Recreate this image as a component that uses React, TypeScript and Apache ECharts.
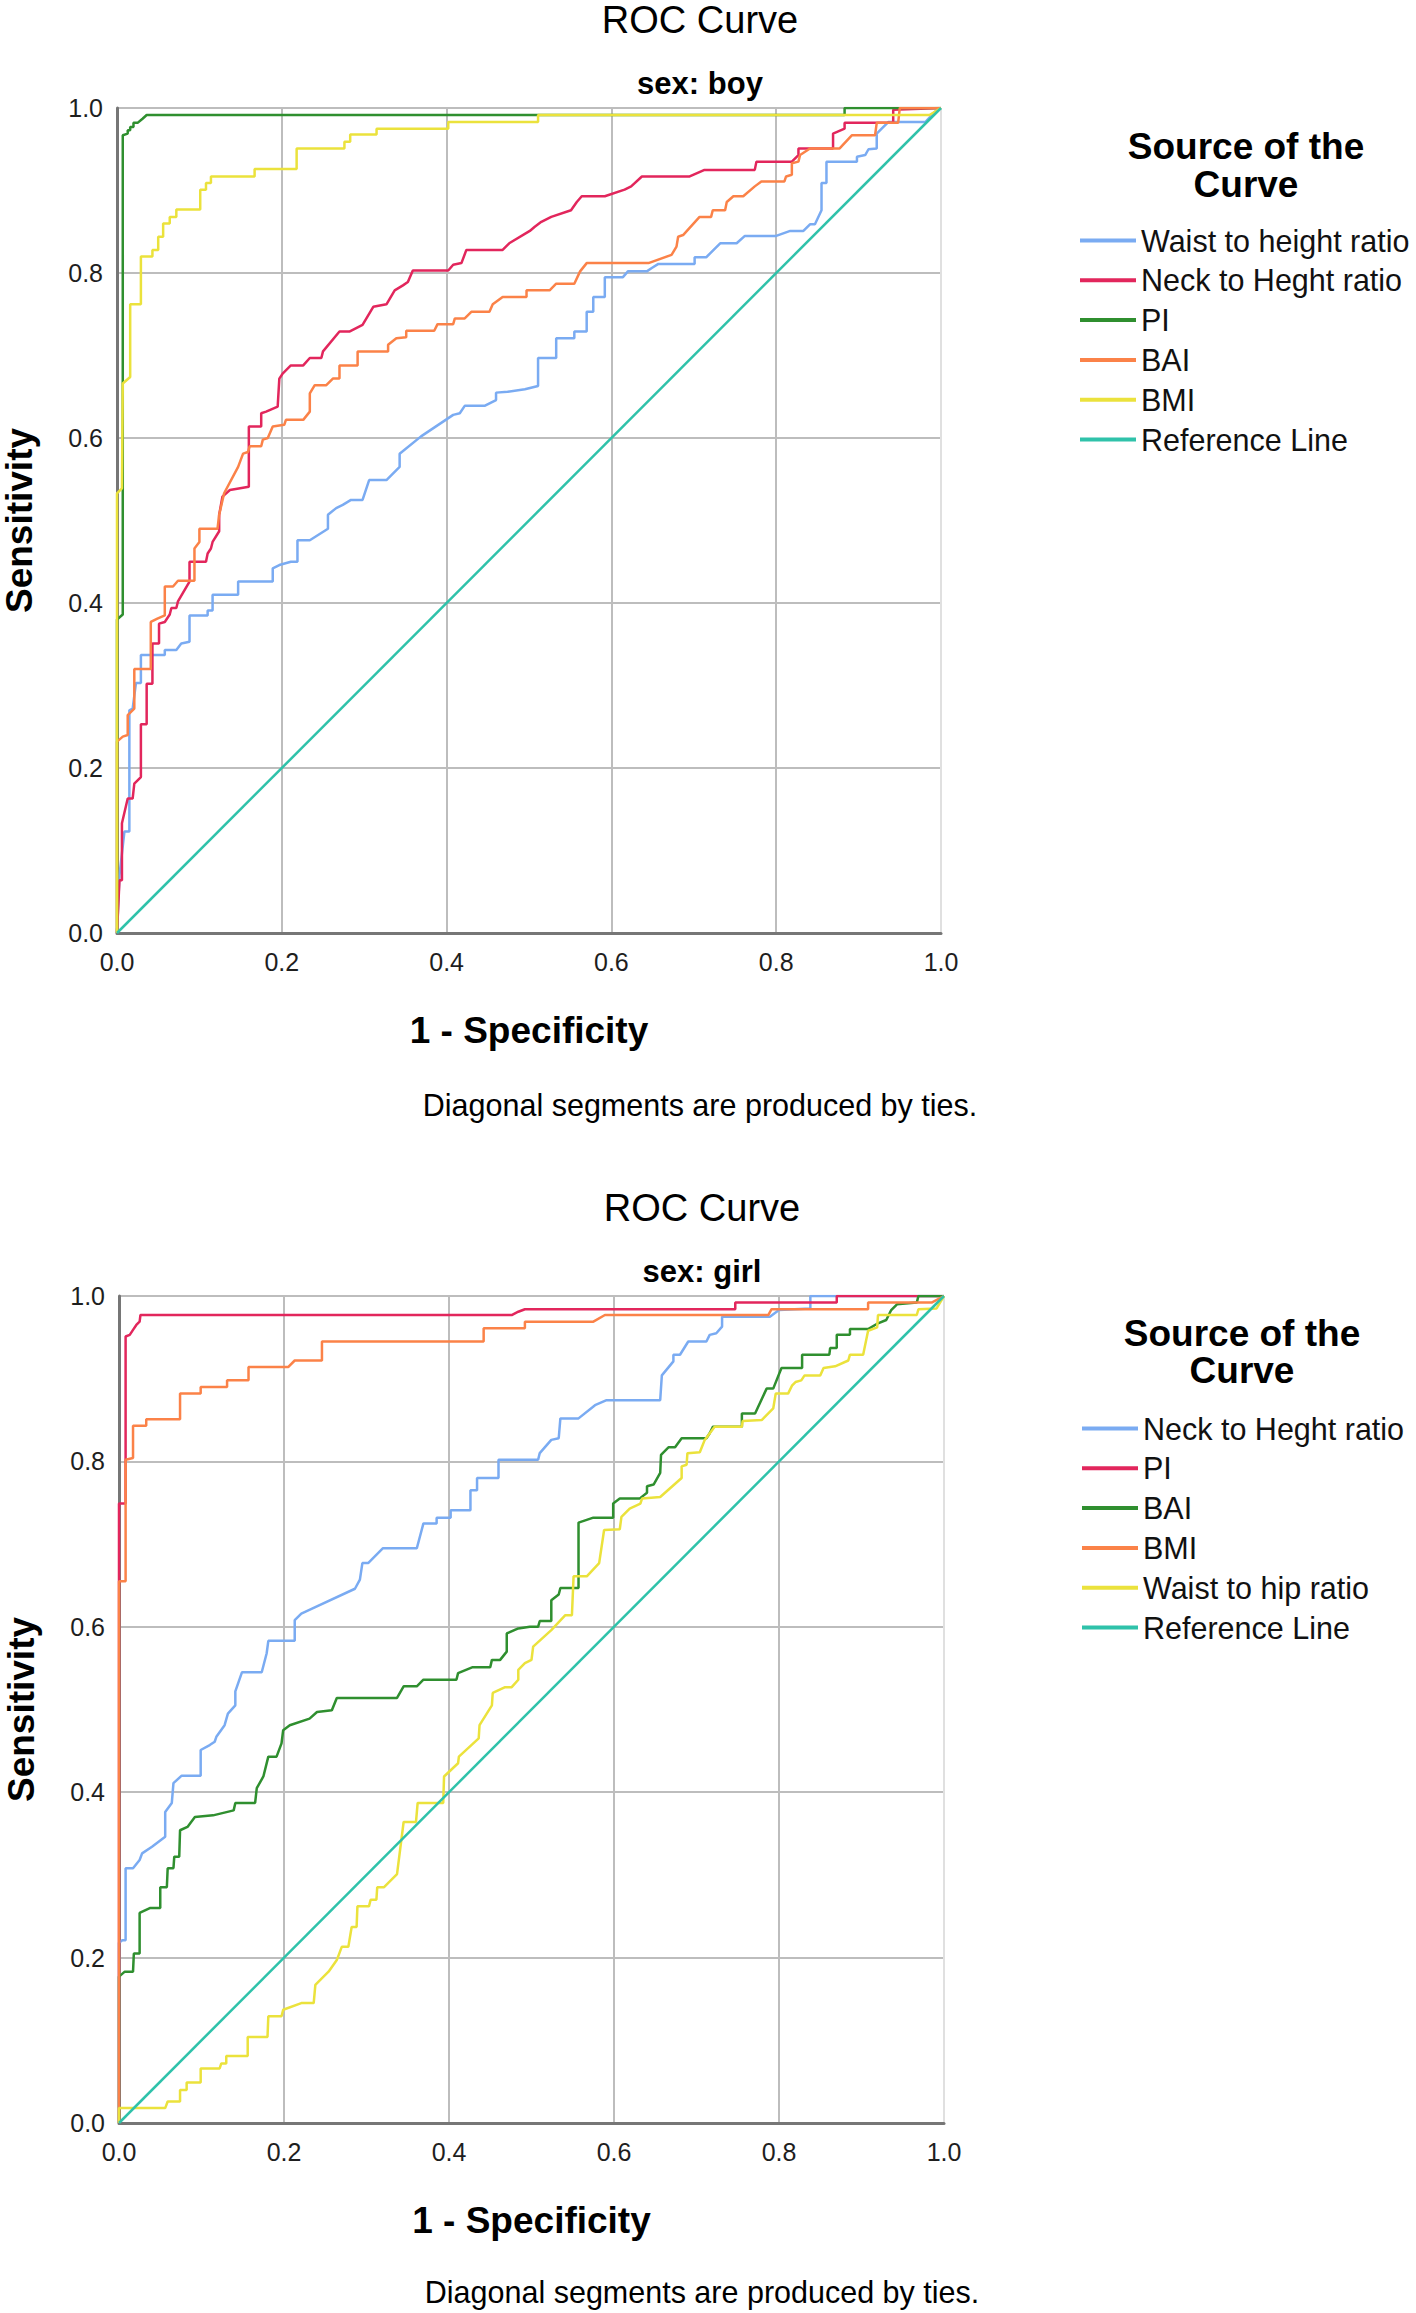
import React, { useEffect, useRef } from "react";
import * as echarts from "echarts";

type Pt = [number, number];

const FONT = '"Liberation Sans", Arial, Helvetica, sans-serif';

const axisTicks = [0, 0.2, 0.4, 0.6, 0.8, 1.0];

// ---------- sex: boy ----------
const boyWaistHeight: Pt[] = [
  [0, 0], [0.003, 0.07], [0.009, 0.123], [0.015, 0.123], [0.015, 0.27], [0.019, 0.272], [0.023, 0.303], [0.029, 0.303],
  [0.029, 0.337], [0.058, 0.337], [0.058, 0.343], [0.072, 0.343], [0.078, 0.351], [0.088, 0.353], [0.088, 0.385],
  [0.11, 0.385], [0.11, 0.391], [0.116, 0.391], [0.116, 0.41], [0.147, 0.41], [0.147, 0.426], [0.189, 0.426],
  [0.189, 0.442], [0.197, 0.446], [0.211, 0.45], [0.219, 0.45], [0.219, 0.476], [0.234, 0.476], [0.256, 0.49],
  [0.256, 0.507], [0.266, 0.515], [0.274, 0.519], [0.284, 0.525], [0.298, 0.525], [0.306, 0.549], [0.327, 0.549],
  [0.343, 0.565], [0.343, 0.581], [0.369, 0.602], [0.408, 0.628], [0.416, 0.63], [0.422, 0.639], [0.446, 0.639],
  [0.46, 0.646], [0.46, 0.655], [0.474, 0.656], [0.495, 0.659], [0.511, 0.663], [0.511, 0.697], [0.533, 0.697],
  [0.533, 0.721], [0.555, 0.721], [0.555, 0.729], [0.57, 0.729], [0.57, 0.753], [0.578, 0.753], [0.578, 0.771],
  [0.592, 0.771], [0.592, 0.795], [0.614, 0.795], [0.62, 0.802], [0.643, 0.802], [0.649, 0.806], [0.657, 0.811],
  [0.701, 0.811], [0.701, 0.819], [0.715, 0.819], [0.732, 0.836], [0.752, 0.836], [0.762, 0.845], [0.8, 0.845],
  [0.817, 0.851], [0.833, 0.851], [0.841, 0.859], [0.847, 0.859], [0.855, 0.876], [0.855, 0.909], [0.861, 0.909],
  [0.861, 0.935], [0.898, 0.935], [0.898, 0.941], [0.908, 0.943], [0.912, 0.95], [0.922, 0.951], [0.922, 0.969],
  [0.928, 0.975], [0.936, 0.983], [0.981, 0.983], [0.993, 0.996], [1, 1],
];

const boyNeckHeight: Pt[] = [
  [0, 0], [0.003, 0.064], [0.006, 0.064], [0.006, 0.133], [0.013, 0.163], [0.019, 0.163], [0.021, 0.181], [0.029, 0.189],
  [0.029, 0.253], [0.036, 0.253], [0.036, 0.302], [0.043, 0.302], [0.043, 0.351], [0.051, 0.351], [0.051, 0.375],
  [0.058, 0.377], [0.064, 0.386], [0.066, 0.394], [0.072, 0.394], [0.074, 0.402], [0.088, 0.426], [0.088, 0.45],
  [0.108, 0.45], [0.11, 0.46], [0.114, 0.466], [0.116, 0.474], [0.124, 0.487], [0.124, 0.507], [0.128, 0.529],
  [0.137, 0.537], [0.16, 0.541], [0.16, 0.614], [0.175, 0.614], [0.175, 0.63], [0.181, 0.632], [0.195, 0.638],
  [0.197, 0.672], [0.201, 0.678], [0.211, 0.688], [0.226, 0.688], [0.234, 0.697], [0.248, 0.697], [0.25, 0.705],
  [0.27, 0.729], [0.282, 0.729], [0.298, 0.737], [0.311, 0.759], [0.327, 0.762], [0.337, 0.779], [0.347, 0.785],
  [0.353, 0.789], [0.359, 0.803], [0.402, 0.803], [0.408, 0.81], [0.418, 0.812], [0.424, 0.828], [0.468, 0.828],
  [0.476, 0.836], [0.501, 0.851], [0.507, 0.856], [0.515, 0.862], [0.527, 0.868], [0.551, 0.876], [0.558, 0.886],
  [0.564, 0.893], [0.592, 0.893], [0.616, 0.901], [0.624, 0.905], [0.637, 0.917], [0.695, 0.917], [0.713, 0.925],
  [0.774, 0.925], [0.776, 0.935], [0.819, 0.935], [0.827, 0.943], [0.827, 0.951], [0.869, 0.951], [0.869, 0.969],
  [0.883, 0.975], [0.883, 0.982], [0.942, 0.982], [0.942, 0.998], [1, 1],
];

const boyPI: Pt[] = [
  [0, 0], [0, 0.38], [0.007, 0.386], [0.007, 0.967], [0.013, 0.969], [0.013, 0.973], [0.016, 0.973], [0.016, 0.977],
  [0.02, 0.977], [0.02, 0.982], [0.025, 0.982], [0.031, 0.987], [0.036, 0.9915], [0.883, 0.9915], [0.883, 1], [1, 1],
];

const boyBAI: Pt[] = [
  [0, 0], [0, 0.232], [0.007, 0.238], [0.013, 0.24], [0.013, 0.264], [0.021, 0.272], [0.021, 0.32], [0.041, 0.32],
  [0.041, 0.377], [0.049, 0.381], [0.058, 0.385], [0.058, 0.42], [0.068, 0.42], [0.074, 0.427], [0.094, 0.427],
  [0.094, 0.466], [0.1, 0.474], [0.1, 0.49], [0.122, 0.49], [0.124, 0.507], [0.13, 0.533], [0.147, 0.565],
  [0.153, 0.581], [0.159, 0.583], [0.161, 0.59], [0.175, 0.59], [0.177, 0.598], [0.183, 0.6], [0.189, 0.614],
  [0.203, 0.616], [0.205, 0.622], [0.226, 0.622], [0.234, 0.632], [0.234, 0.654], [0.24, 0.664], [0.254, 0.664],
  [0.262, 0.672], [0.27, 0.672], [0.27, 0.688], [0.292, 0.688], [0.292, 0.705], [0.329, 0.705], [0.329, 0.713],
  [0.339, 0.721], [0.351, 0.722], [0.351, 0.73], [0.385, 0.73], [0.389, 0.738], [0.408, 0.738], [0.41, 0.745],
  [0.422, 0.745], [0.43, 0.753], [0.452, 0.753], [0.456, 0.762], [0.468, 0.771], [0.497, 0.771], [0.497, 0.779],
  [0.525, 0.779], [0.533, 0.787], [0.555, 0.787], [0.562, 0.802], [0.57, 0.812], [0.645, 0.812], [0.673, 0.822],
  [0.679, 0.832], [0.681, 0.844], [0.687, 0.846], [0.707, 0.868], [0.721, 0.868], [0.723, 0.876], [0.738, 0.876],
  [0.74, 0.886], [0.748, 0.893], [0.76, 0.893], [0.774, 0.905], [0.782, 0.911], [0.81, 0.911], [0.812, 0.917],
  [0.819, 0.919], [0.819, 0.933], [0.827, 0.935], [0.829, 0.943], [0.841, 0.951], [0.877, 0.951], [0.892, 0.967],
  [0.92, 0.967], [0.922, 0.982], [0.948, 0.982], [0.95, 1], [1, 1],
];

const boyBMI: Pt[] = [
  [0, 0], [0, 0.533], [0.006, 0.539], [0.007, 0.666], [0.016, 0.674], [0.016, 0.762], [0.029, 0.762], [0.029, 0.82],
  [0.043, 0.82], [0.043, 0.828], [0.05, 0.828], [0.05, 0.844], [0.056, 0.844], [0.056, 0.86], [0.064, 0.86],
  [0.064, 0.868], [0.072, 0.868], [0.072, 0.877], [0.101, 0.877], [0.101, 0.901], [0.108, 0.901], [0.108, 0.909],
  [0.114, 0.909], [0.114, 0.917], [0.167, 0.917], [0.167, 0.926], [0.218, 0.926], [0.218, 0.951], [0.276, 0.951],
  [0.276, 0.959], [0.283, 0.959], [0.283, 0.968], [0.315, 0.968], [0.315, 0.975], [0.402, 0.975], [0.402, 0.983],
  [0.511, 0.983], [0.511, 0.9915], [0.986, 0.9915], [1, 1],
];

// ---------- sex: girl ----------
const girlNeckHeight: Pt[] = [
  [0, 0], [0, 0.218], [0.004, 0.221], [0.008, 0.221], [0.008, 0.308], [0.017, 0.308], [0.025, 0.318], [0.028, 0.326],
  [0.04, 0.334], [0.056, 0.346], [0.056, 0.376], [0.064, 0.387], [0.066, 0.411], [0.076, 0.42], [0.099, 0.42],
  [0.099, 0.451], [0.11, 0.457], [0.116, 0.461], [0.118, 0.467], [0.128, 0.481], [0.132, 0.495], [0.141, 0.505],
  [0.141, 0.522], [0.149, 0.545], [0.173, 0.545], [0.179, 0.568], [0.181, 0.583], [0.213, 0.583], [0.213, 0.608],
  [0.221, 0.616], [0.234, 0.622], [0.286, 0.646], [0.292, 0.657], [0.295, 0.677], [0.302, 0.677], [0.32, 0.695],
  [0.361, 0.695], [0.369, 0.725], [0.385, 0.725], [0.385, 0.732], [0.402, 0.732], [0.402, 0.741], [0.426, 0.741],
  [0.426, 0.765], [0.434, 0.765], [0.434, 0.78], [0.46, 0.78], [0.46, 0.802], [0.508, 0.802], [0.51, 0.81],
  [0.524, 0.826], [0.533, 0.828], [0.535, 0.852], [0.557, 0.852], [0.577, 0.868], [0.591, 0.874], [0.656, 0.874],
  [0.658, 0.904], [0.672, 0.921], [0.672, 0.929], [0.68, 0.929], [0.69, 0.945], [0.712, 0.945], [0.716, 0.953],
  [0.724, 0.955], [0.731, 0.963], [0.731, 0.975], [0.789, 0.975], [0.8, 0.983], [0.838, 0.985], [0.838, 1], [1, 1],
];

const girlPI: Pt[] = [
  [0, 0], [0, 0.749], [0.008, 0.749], [0.008, 0.951], [0.013, 0.953], [0.017, 0.959], [0.021, 0.965], [0.025, 0.969],
  [0.026, 0.977], [0.476, 0.977], [0.484, 0.981], [0.492, 0.984], [0.747, 0.984], [0.747, 0.992], [0.87, 0.992],
  [0.87, 1], [1, 1],
];

const girlBAI: Pt[] = [
  [0, 0], [0, 0.177], [0.007, 0.183], [0.017, 0.183], [0.018, 0.205], [0.025, 0.205], [0.025, 0.254], [0.038, 0.26],
  [0.05, 0.26], [0.05, 0.285], [0.058, 0.285], [0.059, 0.308], [0.066, 0.308], [0.067, 0.322], [0.073, 0.322],
  [0.074, 0.354], [0.083, 0.358], [0.092, 0.37], [0.114, 0.372], [0.139, 0.378], [0.141, 0.387], [0.165, 0.387],
  [0.167, 0.405], [0.175, 0.419], [0.181, 0.443], [0.191, 0.443], [0.197, 0.459], [0.199, 0.475], [0.207, 0.481],
  [0.231, 0.489], [0.24, 0.497], [0.258, 0.499], [0.264, 0.514], [0.337, 0.514], [0.345, 0.528], [0.361, 0.528],
  [0.369, 0.536], [0.409, 0.536], [0.411, 0.544], [0.428, 0.551], [0.45, 0.551], [0.452, 0.56], [0.462, 0.56],
  [0.47, 0.57], [0.47, 0.592], [0.484, 0.598], [0.498, 0.6], [0.508, 0.6], [0.51, 0.607], [0.524, 0.607],
  [0.524, 0.632], [0.533, 0.639], [0.535, 0.647], [0.557, 0.647], [0.557, 0.726], [0.575, 0.732], [0.599, 0.732],
  [0.599, 0.749], [0.607, 0.755], [0.631, 0.755], [0.64, 0.762], [0.64, 0.77], [0.648, 0.772], [0.656, 0.786],
  [0.657, 0.808], [0.666, 0.817], [0.674, 0.817], [0.682, 0.828], [0.712, 0.828], [0.716, 0.834], [0.72, 0.842],
  [0.755, 0.842], [0.755, 0.858], [0.771, 0.858], [0.785, 0.888], [0.793, 0.888], [0.803, 0.913], [0.828, 0.913],
  [0.828, 0.929], [0.861, 0.929], [0.862, 0.937], [0.87, 0.937], [0.87, 0.953], [0.886, 0.953], [0.886, 0.96],
  [0.908, 0.96], [0.92, 0.967], [0.93, 0.971], [0.936, 0.983], [0.943, 0.99], [0.967, 0.992], [0.969, 1], [1, 1],
];

const girlBMI: Pt[] = [
  [0, 0], [0, 0.655], [0.008, 0.655], [0.008, 0.802], [0.017, 0.804], [0.017, 0.843], [0.033, 0.843], [0.033, 0.851],
  [0.074, 0.851], [0.074, 0.882], [0.099, 0.882], [0.099, 0.89], [0.131, 0.89], [0.131, 0.898], [0.157, 0.898],
  [0.157, 0.914], [0.205, 0.914], [0.213, 0.922], [0.246, 0.922], [0.246, 0.945], [0.442, 0.945], [0.442, 0.961],
  [0.492, 0.961], [0.492, 0.969], [0.575, 0.969], [0.589, 0.977], [0.787, 0.977], [0.791, 0.984], [0.908, 0.984],
  [0.908, 0.992], [0.985, 0.992], [1, 1],
];

const girlWaistHip: Pt[] = [
  [0, 0], [0, 0.018], [0.056, 0.018], [0.059, 0.026], [0.074, 0.026], [0.074, 0.04], [0.082, 0.04], [0.082, 0.049],
  [0.099, 0.049], [0.099, 0.066], [0.122, 0.066], [0.124, 0.072], [0.13, 0.072], [0.13, 0.081], [0.156, 0.081],
  [0.156, 0.104], [0.18, 0.104], [0.181, 0.129], [0.197, 0.129], [0.199, 0.137], [0.221, 0.145], [0.236, 0.145],
  [0.238, 0.167], [0.244, 0.173], [0.254, 0.183], [0.264, 0.197], [0.27, 0.213], [0.278, 0.213], [0.282, 0.237],
  [0.288, 0.237], [0.289, 0.262], [0.303, 0.262], [0.305, 0.27], [0.312, 0.27], [0.313, 0.285], [0.321, 0.285],
  [0.337, 0.301], [0.345, 0.364], [0.36, 0.364], [0.362, 0.387], [0.393, 0.387], [0.394, 0.419], [0.411, 0.435],
  [0.412, 0.443], [0.436, 0.465], [0.437, 0.481], [0.452, 0.505], [0.453, 0.52], [0.468, 0.527], [0.476, 0.527],
  [0.484, 0.536], [0.484, 0.548], [0.492, 0.556], [0.5, 0.56], [0.502, 0.576], [0.524, 0.596], [0.541, 0.614],
  [0.549, 0.614], [0.551, 0.661], [0.567, 0.661], [0.582, 0.677], [0.588, 0.717], [0.607, 0.718], [0.609, 0.733],
  [0.619, 0.743], [0.632, 0.749], [0.634, 0.755], [0.656, 0.757], [0.682, 0.78], [0.682, 0.794], [0.688, 0.796],
  [0.689, 0.81], [0.704, 0.811], [0.71, 0.826], [0.722, 0.842], [0.755, 0.842], [0.756, 0.849], [0.779, 0.85],
  [0.793, 0.864], [0.796, 0.882], [0.811, 0.882], [0.816, 0.892], [0.82, 0.896], [0.827, 0.898], [0.831, 0.904],
  [0.85, 0.904], [0.854, 0.913], [0.868, 0.915], [0.884, 0.922], [0.886, 0.929], [0.902, 0.929], [0.908, 0.958],
  [0.919, 0.962], [0.92, 0.977], [0.967, 0.977], [0.969, 0.984], [0.991, 0.985], [1, 1],
];

const referenceLine: Pt[] = [[0, 0], [1, 1]];

const C_BLUE = "#7aabf2";
const C_RED = "#e2265c";
const C_GREEN = "#2f8f2f";
const C_ORANGE = "#fb8248";
const C_YELLOW = "#ebe23c";
const C_TEAL = "#2fc2aa";

interface SeriesDef {
  name: string;
  color: string;
  data: Pt[];
}

const boySeries: SeriesDef[] = [
  { name: "Waist to height ratio", color: C_BLUE, data: boyWaistHeight },
  { name: "Neck to Heght ratio", color: C_RED, data: boyNeckHeight },
  { name: "PI", color: C_GREEN, data: boyPI },
  { name: "BAI", color: C_ORANGE, data: boyBAI },
  { name: "BMI", color: C_YELLOW, data: boyBMI },
  { name: "Reference Line", color: C_TEAL, data: referenceLine },
];

const girlSeries: SeriesDef[] = [
  { name: "Neck to Heght ratio", color: C_BLUE, data: girlNeckHeight },
  { name: "PI", color: C_RED, data: girlPI },
  { name: "BAI", color: C_GREEN, data: girlBAI },
  { name: "BMI", color: C_ORANGE, data: girlBMI },
  { name: "Waist to hip ratio", color: C_YELLOW, data: girlWaistHip },
  { name: "Reference Line", color: C_TEAL, data: referenceLine },
];

interface PanelCfg {
  subtitle: string;
  series: SeriesDef[];
  gridLeft: number;
  gridTop: number;
  gridW: number;
  gridH: number;
  titleX: number;
  titleY: number;
  subY: number;
  footY: number;
  legendLeft: number;
  legendTop: number;
  legendTitleX: number;
  legendTitleY1: number;
  legendTitleY2: number;
}

function txt(x: number, y: number, text: string, size: number, bold: boolean) {
  return {
    type: "text",
    x,
    y,
    silent: true,
    style: {
      text,
      fill: "#000",
      font: `${bold ? "bold " : ""}${size}px ${FONT}`,
      textAlign: "center",
      textVerticalAlign: "middle",
      align: "center",
      verticalAlign: "middle",
    },
  };
}

function buildOption(cfg: PanelCfg) {
  const xGridColors = axisTicks.map((t) => (t === 1 ? "#e0e0e0" : "#bdbdbd"));
  const yGridColors = axisTicks.map(() => "#bdbdbd");
  const axisCommon = {
    type: "value",
    min: 0,
    max: 1,
    interval: 0.2,
    nameLocation: "middle",
    nameTextStyle: { fontSize: 37, fontWeight: "bold", color: "#000", fontFamily: FONT },
    axisTick: { show: false },
    axisLine: { show: true, onZero: false, lineStyle: { color: "#767676", width: 3 } },
  };
  const labelStyle = {
    fontSize: 25,
    color: "#1e1e1e",
    fontFamily: FONT,
    formatter: (v: number) => v.toFixed(1),
  };
  return {
    animation: false,
    backgroundColor: "#ffffff",
    textStyle: { fontFamily: FONT },
    grid: {
      left: cfg.gridLeft,
      top: cfg.gridTop,
      width: cfg.gridW,
      height: cfg.gridH,
      containLabel: false,
      outerBoundsMode: "none",
    },
    xAxis: {
      ...axisCommon,
      name: "1 - Specificity",
      nameGap: 79,
      axisLabel: { ...labelStyle, margin: 16 },
      splitLine: { show: true, lineStyle: { color: xGridColors, width: 2 } },
    },
    yAxis: {
      ...axisCommon,
      name: "Sensitivity",
      nameRotate: 90,
      nameGap: 79,
      axisLabel: { ...labelStyle, margin: 14 },
      splitLine: { show: true, lineStyle: { color: yGridColors, width: 2 } },
    },
    legend: {
      orient: "vertical",
      left: cfg.legendLeft,
      top: cfg.legendTop,
      icon: "rect",
      itemWidth: 56,
      itemHeight: 4,
      itemGap: 8.8,
      selectedMode: false,
      textStyle: { fontSize: 30.5, color: "#111", fontFamily: FONT, lineHeight: 31 },
      data: cfg.series.map((s) => s.name),
    },
    graphic: [
      txt(cfg.titleX, cfg.titleY, "ROC Curve", 38, false),
      txt(cfg.titleX, cfg.subY, `sex: ${cfg.subtitle}`, 31, true),
      txt(cfg.titleX, cfg.footY, "Diagonal segments are produced by ties.", 30.5, false),
      txt(cfg.legendTitleX, cfg.legendTitleY1, "Source of the", 37, true),
      txt(cfg.legendTitleX, cfg.legendTitleY2, "Curve", 37, true),
    ],
    series: cfg.series.map((s, i) => ({
      name: s.name,
      type: "line",
      data: s.data,
      symbol: "none",
      showSymbol: false,
      color: s.color,
      itemStyle: { color: s.color },
      lineStyle: { color: s.color, width: 2.5 },
      z: 2 + i,
      silent: true,
    })),
  };
}

const boyCfg: PanelCfg = {
  subtitle: "boy",
  series: boySeries,
  gridLeft: 117,
  gridTop: 108,
  gridW: 824,
  gridH: 825,
  titleX: 700,
  titleY: 20,
  subY: 83,
  footY: 1105,
  legendLeft: 1075,
  legendTop: 220,
  legendTitleX: 1246,
  legendTitleY1: 146,
  legendTitleY2: 184,
};

const girlCfg: PanelCfg = {
  subtitle: "girl",
  series: girlSeries,
  gridLeft: 119,
  gridTop: 108,
  gridW: 825,
  gridH: 827,
  titleX: 702,
  titleY: 20,
  subY: 83,
  footY: 1104,
  legendLeft: 1077,
  legendTop: 220,
  legendTitleX: 1242,
  legendTitleY1: 145,
  legendTitleY2: 182,
};

function Panel({ cfg, top, height }: { cfg: PanelCfg; top: number; height: number }) {
  const ref = useRef<HTMLDivElement>(null);
  useEffect(() => {
    if (!ref.current) return;
    const chart = echarts.init(ref.current, undefined, { renderer: "svg" });
    chart.setOption(buildOption(cfg) as any);
    return () => {
      chart.dispose();
    };
  }, [cfg]);
  return <div ref={ref} style={{ position: "absolute", left: 0, top, width: 1416, height }} />;
}

export default function App() {
  return (
    <div
      style={{
        position: "absolute",
        left: 0,
        top: 0,
        width: 1416,
        height: 2313,
        background: "#fff",
        overflow: "hidden",
      }}
    >
      <Panel cfg={boyCfg} top={0} height={1188} />
      <Panel cfg={girlCfg} top={1188} height={1125} />
    </div>
  );
}
